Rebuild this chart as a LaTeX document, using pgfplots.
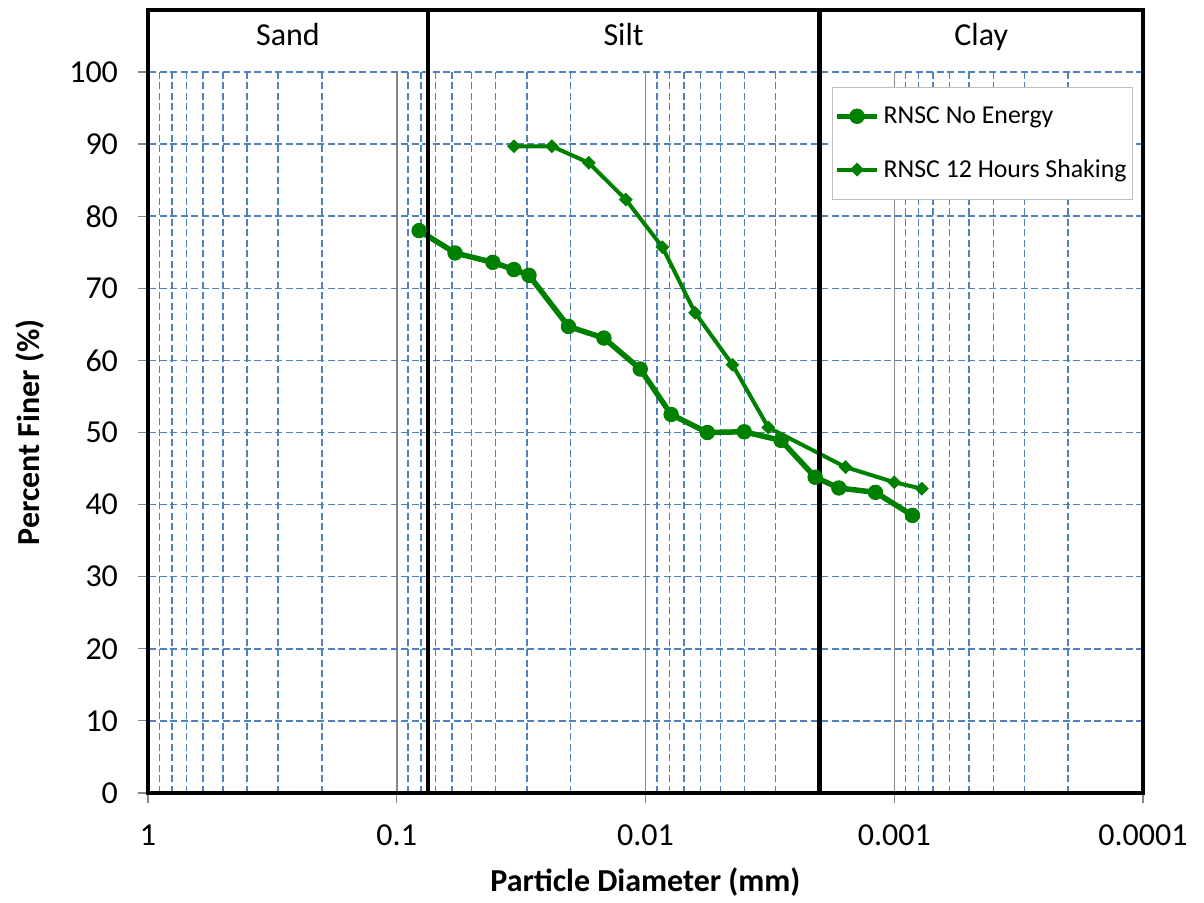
\documentclass[border=0pt]{standalone}
\usepackage{fontspec}
\setmainfont{Carlito}
\usepackage{pgfplots}
\pgfplotsset{compat=1.18}
\definecolor{gridblue}{RGB}{79,129,189}
\definecolor{majgray}{RGB}{134,134,134}
\definecolor{sgreen}{RGB}{0,128,0}
\begin{document}
\begin{tikzpicture}
\path (-74pt,-55pt) rectangle (528pt,396.5pt);
\begin{axis}[
  scale only axis, width=497.5pt, height=360.5pt,
  at={(0,0)}, anchor=south west,
  xmode=log, x dir=reverse, xmin=1e-4, xmax=1,
  ymin=0, ymax=100,
  xtick={1,0.1,0.01,0.001,0.0001},
  xticklabels={1,0.1,0.01,0.001,0.0001},
  minor xtick={0.9,0.8,0.7,0.6,0.5,0.4,0.3,0.2,
    0.09,0.08,0.07,0.06,0.05,0.04,0.03,0.02,
    0.009,0.008,0.007,0.006,0.005,0.004,0.003,0.002,
    0.0009,0.0008,0.0007,0.0006,0.0005,0.0004,0.0003,0.0002},
  ytick={0,10,...,100},
  xmajorgrids, xminorgrids, ymajorgrids,
  major x grid style={majgray, line width=0.75pt},
  minor x grid style={gridblue, dash pattern=on 3.5pt off 1.75pt, line width=0.75pt},
  major y grid style={gridblue, dash pattern=on 3.5pt off 1.75pt, line width=0.75pt},
  minor tick length=0pt,
  major tick length=5pt,
  tick align=outside,
  tick style={majgray, line width=0.6pt},
  xtick pos=bottom, ytick pos=left,
  axis line style={draw=none},
  clip=false,
  tick label style={font=\fontsize{16}{19}\selectfont},
  xticklabel style={yshift=-7.5pt},
  yticklabel style={xshift=-6.5pt},
  /pgf/number format/assume math mode=true,
  legend style={draw=gray!50, fill=white, font=\fontsize{12.9}{14}\selectfont,
    row sep=12.5pt, inner xsep=1pt, inner ysep=7.5pt,
    at={(0.98995,0.9792)}, anchor=north east},
  legend cell align=left,
  legend image code/.code={\draw[mark repeat=2,mark phase=2] plot coordinates {(0cm,0cm) (0.35cm,0cm) (0.7cm,0cm)};},
]
\addplot[sgreen, line width=2.75pt, mark=*, mark size=3.6pt, mark options={solid, line width=0.5pt}] coordinates {
(0.0813,78.0) (0.0583,74.9) (0.0411,73.6) (0.0338,72.6) (0.0294,71.8)
(0.0204,64.7) (0.0147,63.1) (0.0105,58.8) (0.00789,52.5) (0.00564,50.0)
(0.00401,50.1) (0.00285,48.9) (0.00208,43.8) (0.00167,42.3) (0.00119,41.7)
(0.000845,38.5)};
\addlegendentry{RNSC No Energy}
\addplot[sgreen, line width=2pt, mark=square*, mark size=2.2pt, mark options={solid, rotate=45, line width=0.5pt}] coordinates {
(0.0338,89.7) (0.0238,89.7) (0.0169,87.4) (0.0120,82.3) (0.00855,75.7)
(0.00632,66.6) (0.00447,59.4) (0.00321,50.7) (0.00157,45.2) (0.00100,43.1)
(0.000775,42.2)};
\addlegendentry{RNSC 12 Hours Shaking}
\addplot[black, line width=1.8pt, line cap=rect, mark=none, forget plot] coordinates {(1,0) (1,108.6) (0.0001,108.6) (0.0001,0) (1,0)};
\addplot[black, line width=2pt, mark=none, forget plot] coordinates {(0.075,0) (0.075,108.6)};
\addplot[black, line width=2.6pt, mark=none, forget plot] coordinates {(0.002,0) (0.002,108.6)};
\node[anchor=base, font=\fontsize{16}{19}\selectfont] at (axis cs:0.2739,103.7) {Sand};
\node[anchor=base, font=\fontsize{16}{19}\selectfont] at (axis cs:0.01225,103.7) {Silt};
\node[anchor=base, font=\fontsize{16}{19}\selectfont] at (axis cs:0.000447,103.7) {Clay};
\node[rotate=90, anchor=center, font=\fontsize{16}{19}\selectfont\bfseries] at ([xshift=-59pt]axis cs:1,50) {Percent Finer (\%)};
\node[anchor=center, font=\fontsize{16}{19}\selectfont\bfseries] at ([yshift=-44.5pt]axis cs:0.01,0) {Particle Diameter (mm)};
\end{axis}
\end{tikzpicture}
\end{document}
